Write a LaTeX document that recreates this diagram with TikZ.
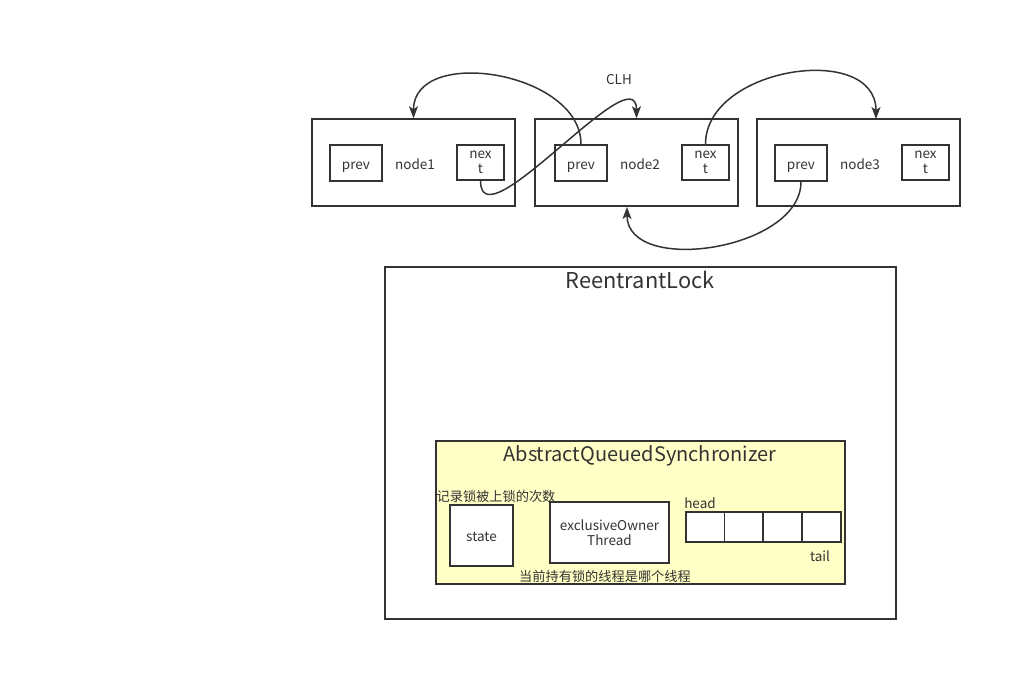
\documentclass[tikz,border=0pt]{standalone}
\usepackage{fontspec}
\setmainfont{Noto Sans CJK SC}
\usepackage{tikz}
\usetikzlibrary{arrows.meta}
\definecolor{ink}{HTML}{333333}
\definecolor{aqsfill}{HTML}{FFFFC6}

\begin{document}
\begin{tikzpicture}[x=1pt,y=-1pt,->,>={Stealth[length=12pt,width=9pt,inset=3pt]},
                    line width=1.5pt,draw=ink,text=ink]

  \tikzstyle{box}=[-,draw=ink,rectangle,inner sep=0pt,line width=1.5pt,align=center]
  \tikzstyle{lbl}=[inner sep=0pt,font=\fontsize{13.5}{15}\selectfont,align=center]
  \tikzstyle{one}=[lbl,text height=13pt,text depth=1pt]
  \tikzstyle{cjk}=[one,font=\fontsize{13.2}{15}\selectfont]

  \useasboundingbox (0,0) rectangle (1021,681);

  \node[box,minimum width=203,minimum height=87] (N1) at (413.5,162.5) {};
  \node[box,minimum width=203,minimum height=87] (N2) at (636.5,162.5) {};
  \node[box,minimum width=203,minimum height=87] (N3) at (858.5,162.5) {};

  \node[box,one,minimum width=52,minimum height=36] (P1) at (356,163)   {prev};
  \node[box,lbl,minimum width=47,minimum height=35] (X1) at (480.5,162.5) {nex\\t};
  \node[box,one,minimum width=52,minimum height=36] (P2) at (581,163)   {prev};
  \node[box,lbl,minimum width=47,minimum height=35] (X2) at (705.5,162.5) {nex\\t};
  \node[box,one,minimum width=52,minimum height=36] (P3) at (801,163)   {prev};
  \node[box,lbl,minimum width=47,minimum height=35] (X3) at (925.5,162.5) {nex\\t};

  \node[one] (L1) at (415,163) {node1};
  \node[one] (L2) at (640,163) {node2};
  \node[one] (L3) at (860,163) {node3};
  \node[one] (CLH) at (619,78) {CLH};

  \coordinate (N3in)  at (876,119);
  \coordinate (N2out) at (627,207);

  \path
  (P2.north) edge [out=90,in=90,looseness=1.1]   (N1.north)
  (X1.south) edge [out=270,in=90,looseness=1]    (N2.north)
  (X2.north) edge [out=90,in=90,looseness=1.15]  (N3in)
  (P3.south) edge [out=270,in=270,looseness=1]   (N2out)
  ;

  \node[box,minimum width=511,minimum height=352] (RL) at (640.5,443) {};
  \node[one,font=\fontsize{21.8}{24}\selectfont] (RLt) at (640,282) {ReentrantLock};

  \node[box,fill=aqsfill,minimum width=409,minimum height=143] (AQS) at (640.5,512.5) {};
  \node[one,font=\fontsize{20}{22}\selectfont] (AQSt) at (640,455) {AbstractQueuedSynchronizer};

  \node[cjk] (C1) at (496,495) {记录锁被上锁的次数};
  \node[box,one,fill=white,minimum width=63,minimum height=61] (ST) at (481.5,535.5) {state};
  \node[box,lbl,fill=white,minimum width=119,minimum height=61] (EOT) at (609.5,532.5) {exclusiveOwner\\Thread};
  \node[cjk] (C2) at (605,575) {当前持有锁的线程是哪个线程};

  \node[one] (HD) at (700,502) {head};
  \node[box,fill=white,minimum width=39,minimum height=30] (Q1) at (705.5,527) {};
  \node[box,fill=white,minimum width=39,minimum height=30] (Q2) at (744,527) {};
  \node[box,fill=white,minimum width=39,minimum height=30] (Q3) at (782.5,527) {};
  \node[box,fill=white,minimum width=39,minimum height=30] (Q4) at (821.5,527) {};
  \node[one] (TL) at (820,555) {tail};
\end{tikzpicture}
\end{document}
